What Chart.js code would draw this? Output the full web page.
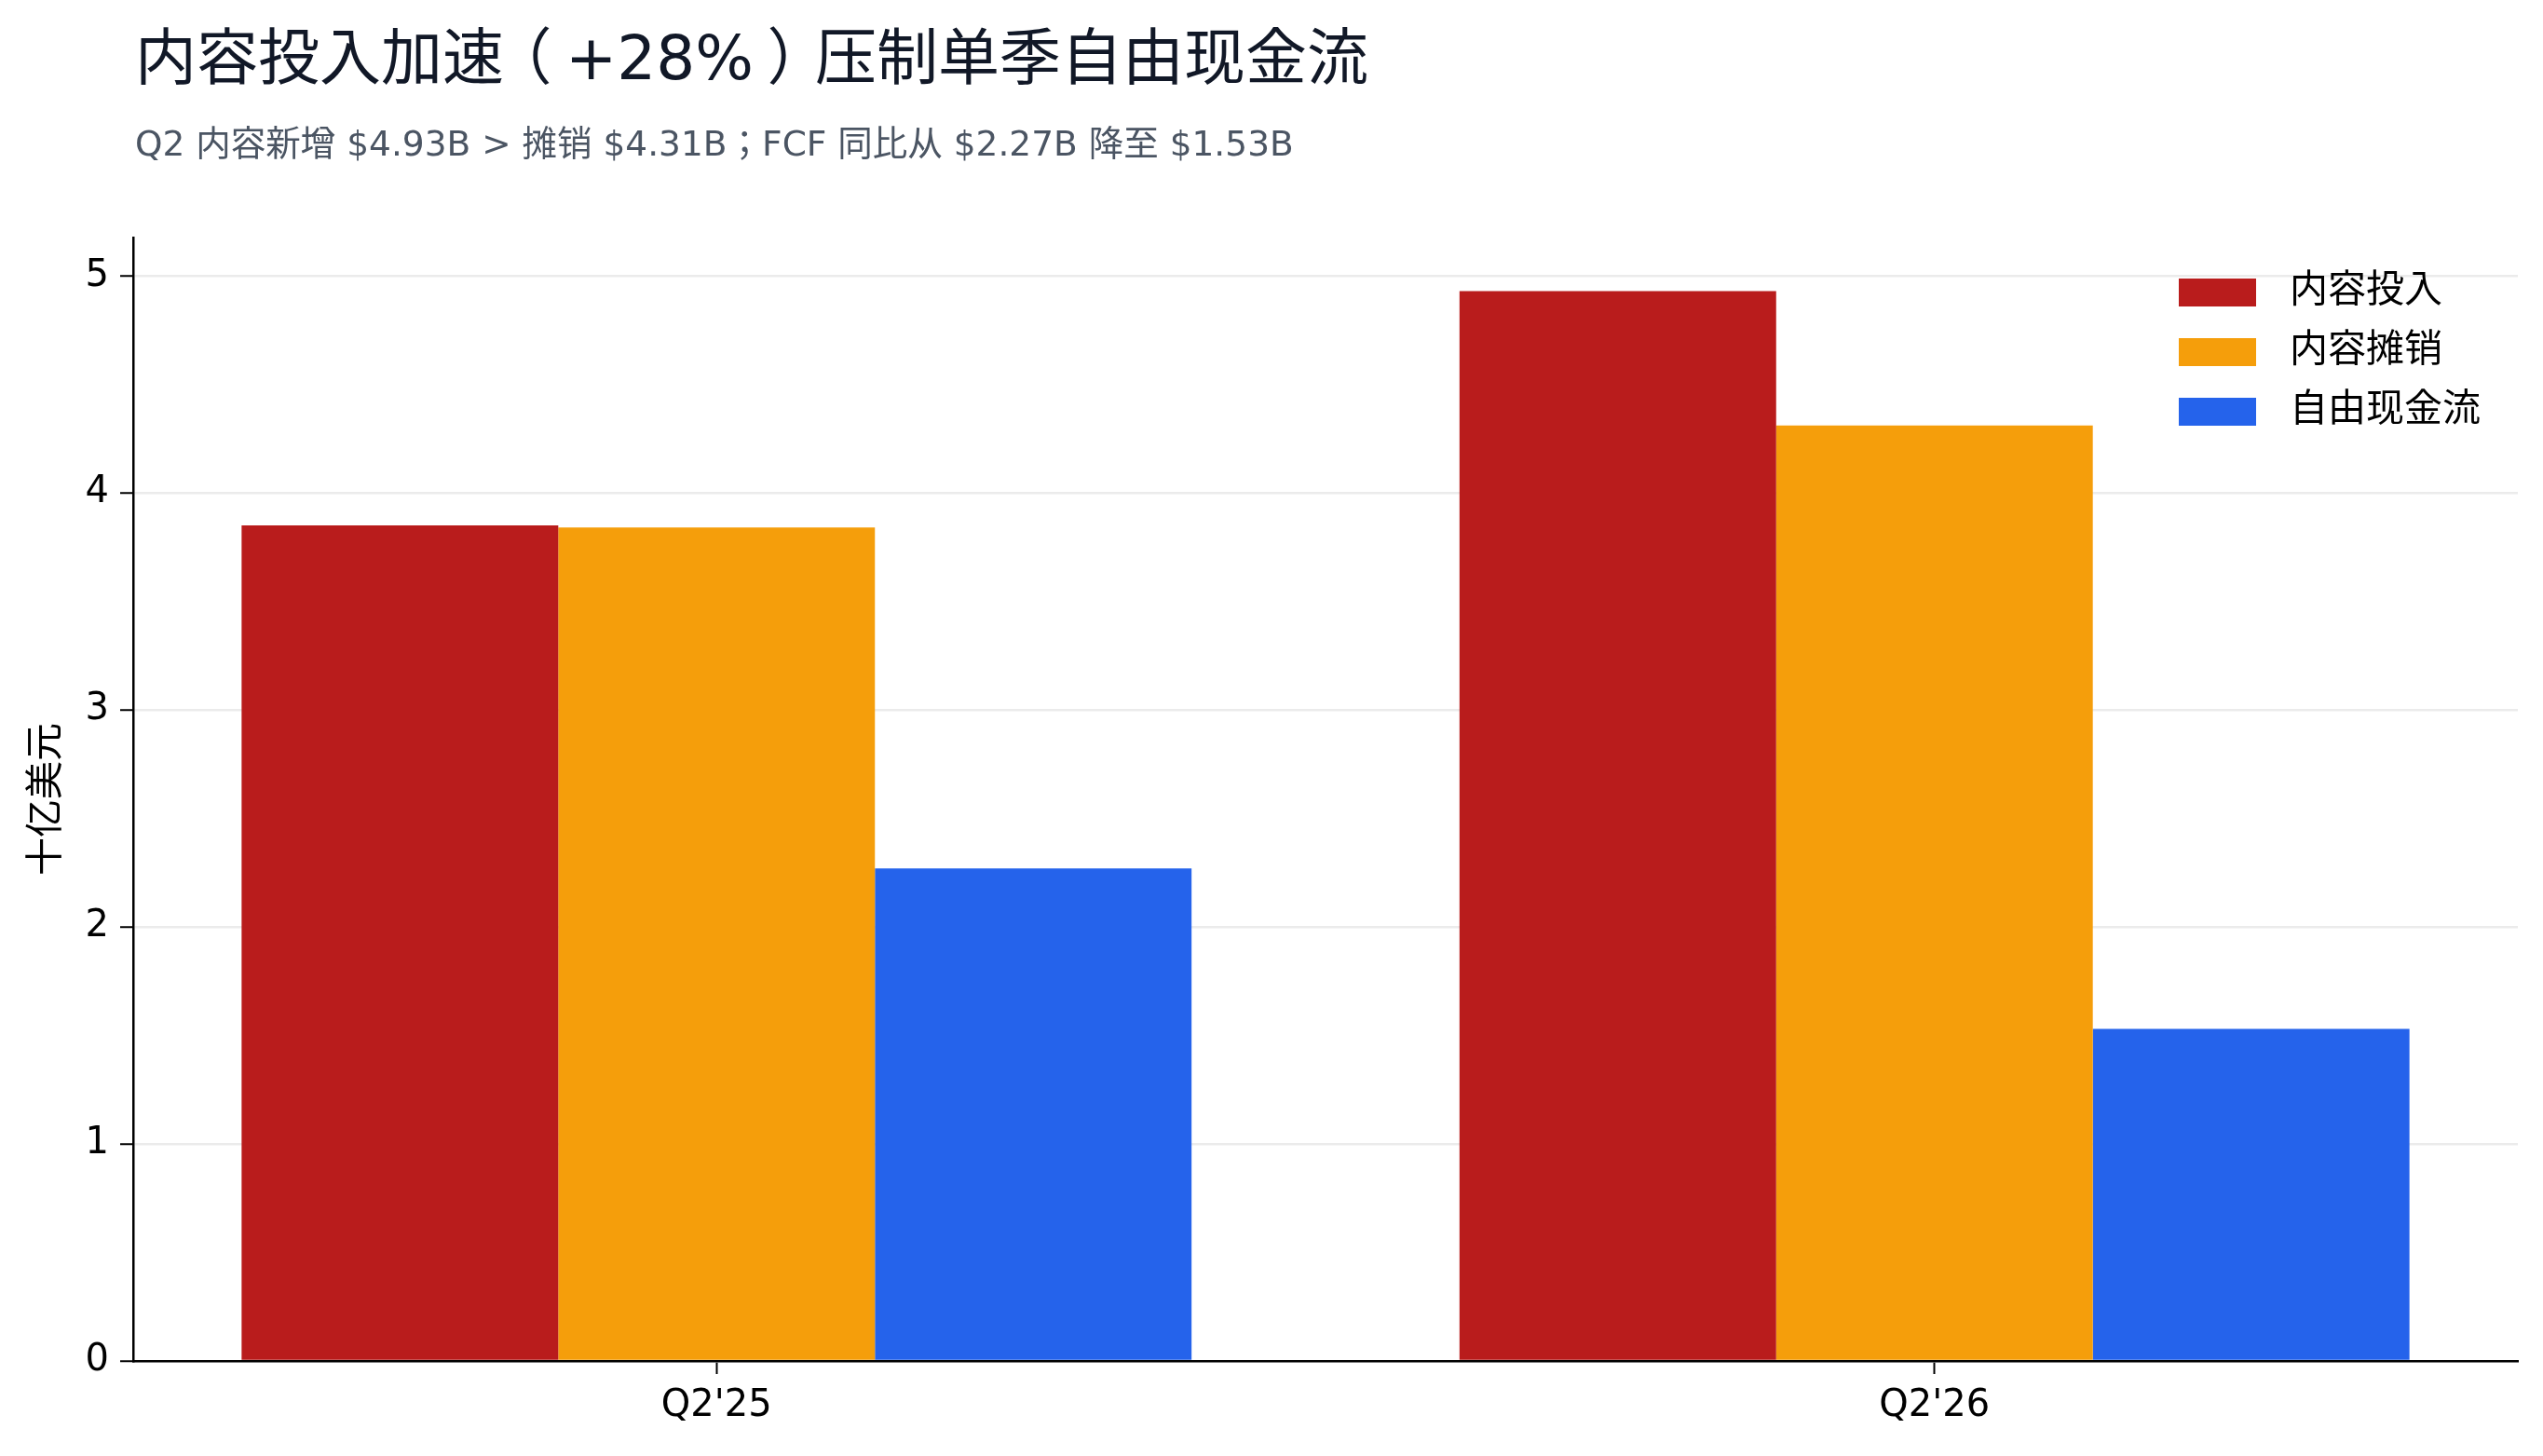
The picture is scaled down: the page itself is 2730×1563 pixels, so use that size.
<!DOCTYPE html>
<html>
<head>
<meta charset="utf-8">
<script src="https://cdn.jsdelivr.net/npm/chart.js@4.4.1/dist/chart.umd.min.js"></script>
<style>
    html, body { margin: 0; padding: 0; background: #fff; }
    #wrap { width: 2730px; height: 1563px; }
</style>
</head>
<body>
<div id="wrap"><canvas id="cashChart" width="2730" height="1563"></canvas></div>
<script>
// data, billions USD
const categories = ["Q2'25", "Q2'26"];
const contentSpend = [3.85, 4.93];
const contentAmort = [3.84, 4.31];
const freeCashFlow = [2.27, 1.53];
const seriesNames = ['内容投入', '内容摊销', '自由现金流'];
const seriesColors = ['#b91c1c', '#f59e0b', '#2563eb'];
const yTicks = [0, 1, 2, 3, 4, 5];

const titleText = '内容投入加速（+28%）压制单季自由现金流';
const subtitleText = 'Q2 内容新增 $4.93B > 摊销 $4.31B；FCF 同比从 $2.27B 降至 $1.53B';
const yAxisTitle = '十亿美元';

const FONT = '"DejaVu Sans", "Noto Sans CJK JP", sans-serif';

const toPoints = arr => categories.map((c, i) => ({ x: i, y: arr[i] }));


// full-width brackets sit centred in their box in the reference
function drawCentredBrackets(ctx, text, x, y, size) {
    text.split(/([（）])/).forEach(part => {
        if (!part) return;
        const w = ctx.measureText(part).width;
        let dx = 0;
        if (part === '（') dx = -0.22 * size;
        if (part === '）') dx = 0.22 * size;
        ctx.fillText(part, x + dx, y);
        x += w;
    });
}

// title + subtitle, left aligned with the plot
const headerPlugin = {
    id: 'header',
    afterDraw(chart) {
        const ctx = chart.ctx;
        ctx.save();
        ctx.textAlign = 'left';
        ctx.textBaseline = 'middle';
        ctx.fillStyle = '#111827';
        ctx.font = `66px ${FONT}`;
        drawCentredBrackets(ctx, titleText, 145, 68, 66);
        ctx.fillStyle = '#4b5563';
        ctx.font = `37.5px ${FONT}`;
        ctx.fillText(subtitleText, 145, 157);
        ctx.restore();
    }
};

// legend in the upper right corner of the plot, stacked
const cornerLegend = {
    id: 'cornerLegend',
    afterDraw(chart) {
        const ctx = chart.ctx;
        ctx.save();
        ctx.font = `41px ${FONT}`;
        ctx.textAlign = 'left';
        ctx.textBaseline = 'middle';
        chart.data.datasets.forEach((ds, i) => {
            const y = 299 + i * 64;
            ctx.fillStyle = ds.backgroundColor;
            ctx.fillRect(2339, y, 83, 30);
            ctx.fillStyle = '#000';
            ctx.fillText(ds.label, 2458, y + 14);
        });
        ctx.restore();
    }
};


const ctx = document.getElementById('cashChart').getContext('2d');

const chart = new Chart(ctx, {
    type: 'bar',
    data: {
        datasets: [
            { label: seriesNames[0], data: toPoints(contentSpend), backgroundColor: seriesColors[0] },
            { label: seriesNames[1], data: toPoints(contentAmort), backgroundColor: seriesColors[1] },
            { label: seriesNames[2], data: toPoints(freeCashFlow), backgroundColor: seriesColors[2] }
        ]
    },
    options: {
        responsive: false,
        animation: false,
        devicePixelRatio: 1,
        layout: { padding: { top: 255, right: 27, left: 0, bottom: 0 } },
        datasets: {
            bar: { categoryPercentage: 0.78, barPercentage: 1.0, borderWidth: 0 }
        },
        plugins: {
            legend: { display: false },
            tooltip: { enabled: false }
        },
        scales: {
            x: {
                type: 'linear',
                min: -0.479,
                max: 1.479,
                offset: false,
                afterBuildTicks: axis => { axis.ticks = categories.map((c, i) => ({ value: i })); },
                afterFit: axis => { axis.height = 102; },
                ticks: {
                    callback: v => categories[v],
                    font: { family: FONT, size: 40 },
                    color: '#000',
                    padding: 11,
                    autoSkip: false,
                    maxRotation: 0
                },
                grid: {
                    offset: false,
                    drawOnChartArea: false,
                    drawTicks: true,
                    tickLength: 14,
                    tickWidth: 2,
                    tickColor: '#000'
                },
                border: { display: true, color: '#000', width: 2.5 }
            },
            y: {
                min: 0,
                max: 5.1765,
                afterBuildTicks: axis => { axis.ticks = yTicks.map(v => ({ value: v })); },
                afterFit: axis => { axis.width = 143; },
                ticks: {
                    font: { family: FONT, size: 40 },
                    color: '#000',
                    padding: 12
                },
                grid: {
                    color: '#ebebeb',
                    lineWidth: 2.5,
                    tickLength: 14,
                    tickWidth: 2,
                    tickColor: '#000'
                },
                border: { display: true, color: '#000', width: 2.5 },
                title: {
                    display: true,
                    text: yAxisTitle,
                    font: { family: FONT, size: 41 },
                    color: '#000',
                    padding: { top: 27, bottom: 0 }
                }
            }
        }
    },
    plugins: [headerPlugin, cornerLegend]
});
</script>
</body>
</html>
